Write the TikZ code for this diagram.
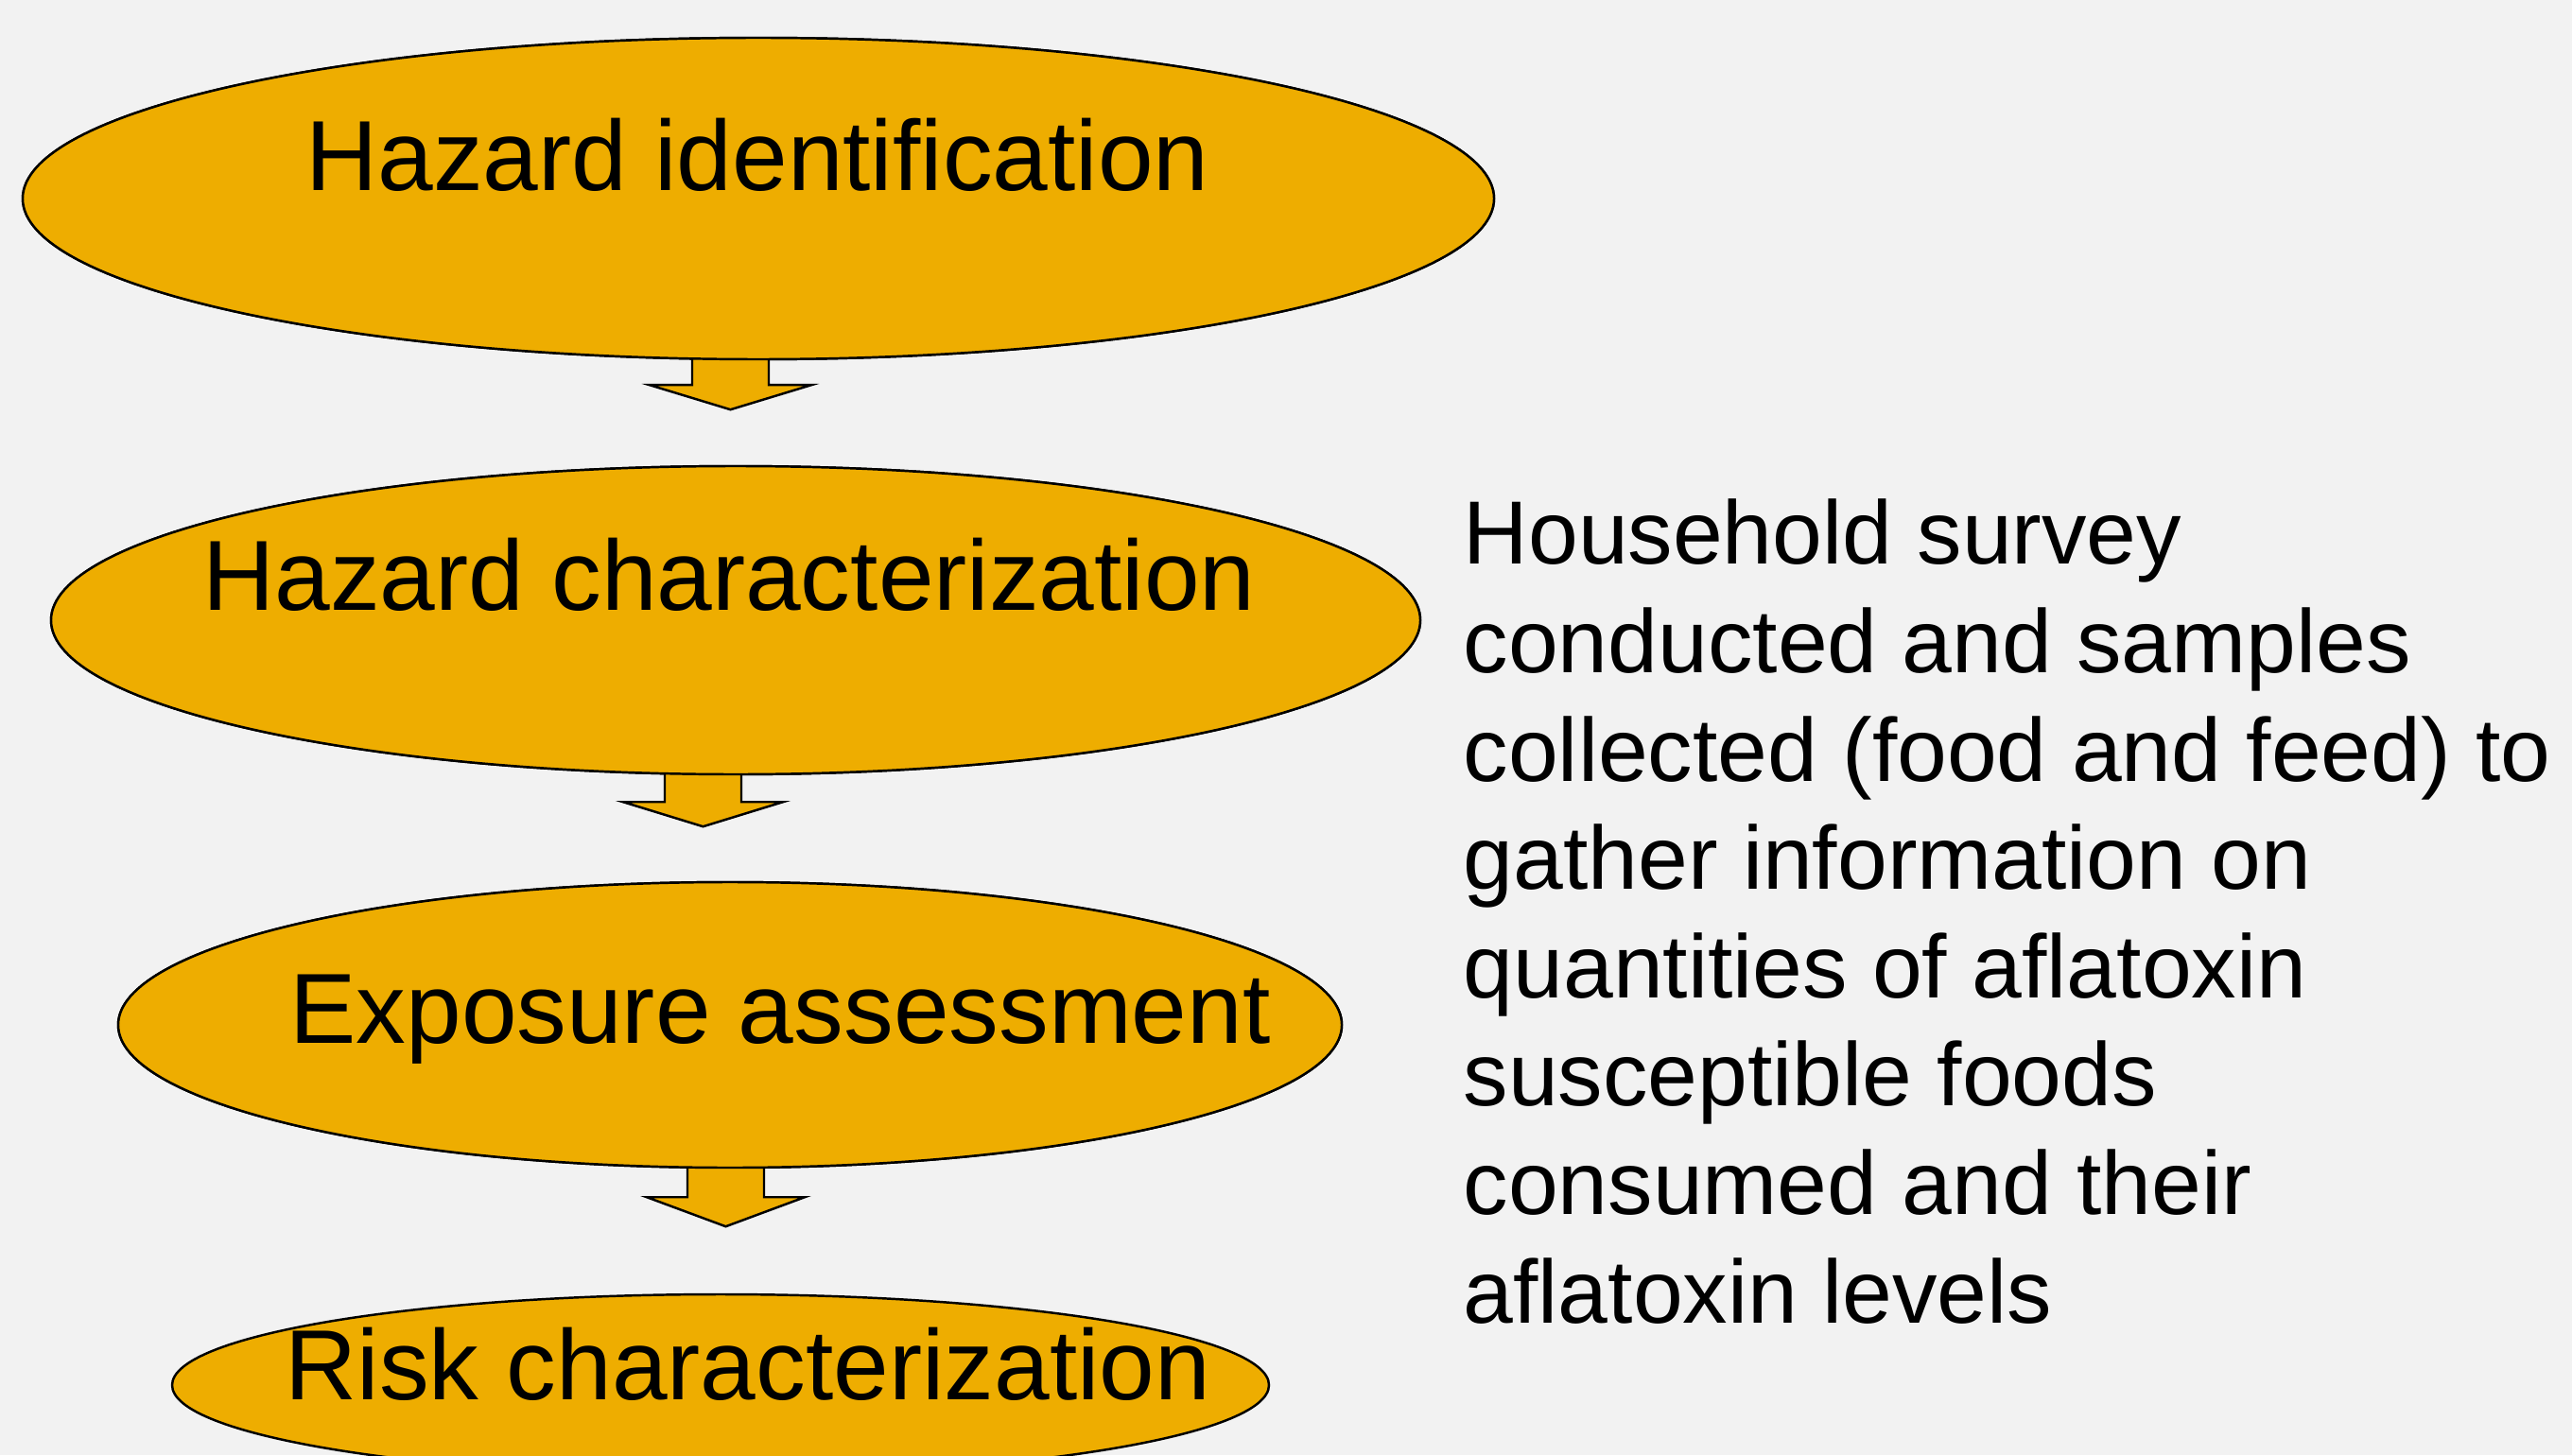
\documentclass[tikz,border=0pt]{standalone}
\usepackage{fontspec}
\setmainfont{Liberation Sans}
\usetikzlibrary{shapes.geometric,positioning}

\definecolor{bgcolor}{RGB}{242,242,242}
\definecolor{stagecolor}{RGB}{238,173,0}

\tikzset{
  stage/.style={draw, ellipse, fill=stagecolor, line width=0.7pt, inner sep=0pt},
  stagetext/.style={anchor=base, inner sep=0pt, font=\fontsize{30}{36}\selectfont},
  blockarrow/.style={draw, fill=stagecolor, line width=0.7pt, line join=miter},
}

\begin{document}
\begin{tikzpicture}

    % background
    \fill[bgcolor] (0,0) rectangle (27.2,-15.39);
    \clip (0,0) rectangle (27.2,-15.39);

    %% stages
    \node[stage, minimum width=15.56cm, minimum height=3.40cm] (hazid) at (8.02,-2.10) {};
    \node[stage, minimum width=14.48cm, minimum height=3.26cm] (hazchar) at (7.78,-6.56) {};
    \node[stage, minimum width=12.94cm, minimum height=3.02cm] (expo) at (7.72,-10.84) {};
    \node[stage, minimum width=11.60cm, minimum height=1.92cm] (riskchar) at (7.62,-14.65) {};

    % arrows between the stages
    \draw[blockarrow] ([xshift=-0.70cm,yshift=0.1cm]hazid.south) -- ++(0,-0.36) -- ++(-0.45,0)
        -- ++(0.855,-0.26) -- ++(0.855,0.26) -- ++(-0.45,0) -- ++(0,0.36);
    \draw[blockarrow] ([xshift=-0.75cm,yshift=0.1cm]hazchar.south) -- ++(0,-0.38) -- ++(-0.44,0)
        -- ++(0.845,-0.26) -- ++(0.845,0.26) -- ++(-0.44,0) -- ++(0,0.38);
    \draw[blockarrow] ([xshift=-0.45cm,yshift=0.1cm]expo.south) -- ++(0,-0.40) -- ++(-0.43,0)
        -- ++(0.835,-0.31) -- ++(0.835,0.31) -- ++(-0.43,0) -- ++(0,0.40);

    % redraw stages over the arrow stems
    \node[stage, minimum width=15.56cm, minimum height=3.40cm] at (hazid) {};
    \node[stage, minimum width=14.48cm, minimum height=3.26cm] at (hazchar) {};
    \node[stage, minimum width=12.94cm, minimum height=3.02cm] at (expo) {};

    %% labels
    \node[stagetext] (hazidlabel) at (8.01,-2.02) {Hazard identification};
    \node[stagetext] (hazcharlabel) at (7.71,-6.45) {Hazard characterization};
    \node[stagetext] (expolabel) at (8.25,-11.03) {Exposure assessment};
    \node[stagetext] (riskcharlabel) at (7.91,-14.80) {Risk characterization};

    % survey note
    \node[anchor=base west, align=left, inner sep=0pt, font=\fontsize{27}{32.6}\selectfont] (survey) at (15.47,-13.99)
        {Household survey\\conducted and samples\\collected (food and feed) to\\gather information on\\quantities of aflatoxin\\susceptible foods\\consumed and their\\aflatoxin levels};
\end{tikzpicture}
\end{document}
